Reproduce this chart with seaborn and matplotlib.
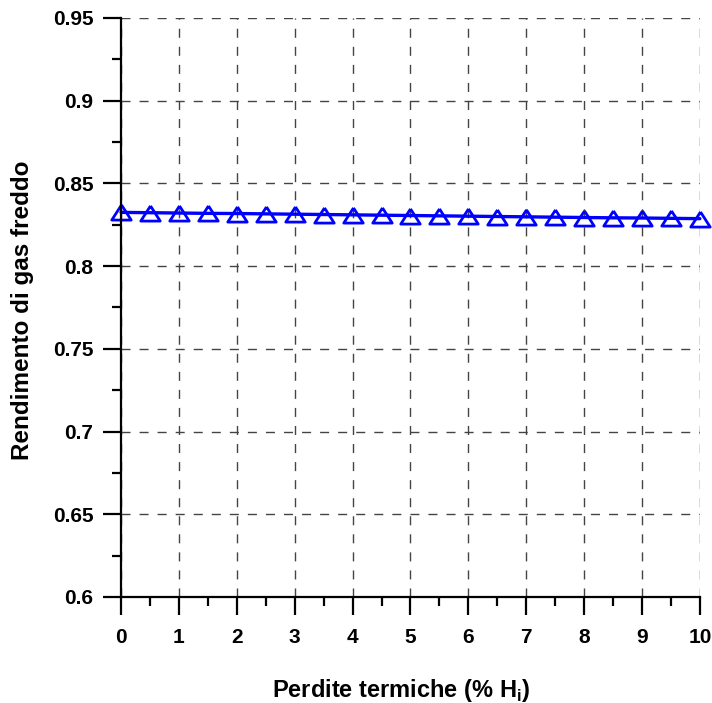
import matplotlib
matplotlib.use("Agg")
import matplotlib.pyplot as plt
import seaborn as sns
import pandas as pd
from matplotlib.ticker import MultipleLocator, FixedLocator

perdite = [0.0, 0.5, 1.0, 1.5, 2.0, 2.5, 3.0, 3.5, 4.0, 4.5, 5.0,
           5.5, 6.0, 6.5, 7.0, 7.5, 8.0, 8.5, 9.0, 9.5, 10.0]
rendimento = [0.8325, 0.8323, 0.8321, 0.8319, 0.8318, 0.8316, 0.8314,
              0.8312, 0.8310, 0.8308, 0.8306, 0.8304, 0.8302, 0.8300,
              0.8298, 0.8296, 0.8294, 0.8292, 0.8291, 0.8289, 0.8287]
x_ticks = [0, 1, 2, 3, 4, 5, 6, 7, 8, 9, 10]
y_ticks = [0.6, 0.65, 0.7, 0.75, 0.8, 0.85, 0.9, 0.95]
y_tick_labels = ["0.6", "0.65", "0.7", "0.75", "0.8", "0.85", "0.9", "0.95"]

sns.set_theme(style="white")
plt.rcParams["font.family"] = ["Liberation Sans", "DejaVu Sans"]
plt.rcParams["font.weight"] = "bold"
plt.rcParams["text.color"] = "black"
plt.rcParams["axes.labelcolor"] = "black"
plt.rcParams["xtick.color"] = "black"
plt.rcParams["ytick.color"] = "black"
plt.rcParams["mathtext.fontset"] = "custom"
plt.rcParams["mathtext.bf"] = "Liberation Sans:bold"
plt.rcParams["mathtext.rm"] = "Liberation Sans:bold"

df = pd.DataFrame({"x": perdite, "y": rendimento})

fig = plt.figure(figsize=(7.12, 7.03), dpi=100)
ax = fig.add_axes([0.170, 0.1508, 0.813, 0.8236])

tri = [(0, 0.78), (-1, -0.78), (1, -0.78), (0, 0.78)]
sns.lineplot(data=df, x="x", y="y", ax=ax, color="#0000ff", linewidth=2.4,
             marker=tri, markersize=14, markerfacecolor="none",
             markeredgecolor="#0000ff", markeredgewidth=2, clip_on=False,
             zorder=5)

ax.set_xlim(0, 10)
ax.set_ylim(0.6, 0.95)
ax.xaxis.set_major_locator(FixedLocator(x_ticks))
ax.xaxis.set_minor_locator(MultipleLocator(0.5))
ax.yaxis.set_major_locator(FixedLocator(y_ticks))
ax.yaxis.set_minor_locator(MultipleLocator(0.025))
ax.set_xticklabels([str(t) for t in x_ticks], fontsize=15, fontweight="bold",
                   color="black")
ax.set_yticklabels(y_tick_labels, fontsize=15, fontweight="bold",
                   color="black")

ax.grid(True, which="major", color="#444444", linestyle=(0, (6.5, 6.5)),
        linewidth=1.0)
ax.set_axisbelow(True)

for s in ["top", "right"]:
    ax.spines[s].set_visible(False)
for s in ["left", "bottom"]:
    ax.spines[s].set_color("black")
    ax.spines[s].set_linewidth(1.6)
    ax.spines[s].set_zorder(6)

ax.tick_params(axis="both", which="major", direction="out", length=13,
               width=1.6, color="black", left=True, bottom=True)
ax.tick_params(axis="x", which="major", pad=9)
ax.tick_params(axis="y", which="major", pad=7)
ax.tick_params(axis="both", which="minor", direction="out", length=6.5,
               width=1.6, color="black", left=True, bottom=True)

ax.set_xlabel(r"Perdite termiche (% H$_\mathbf{i}$)", fontsize=17,
              fontweight="bold", color="black", va="center")
ax.xaxis.set_label_coords(0.4836, -0.162)
ax.set_ylabel("Rendimento di gas freddo", fontsize=17.5, fontweight="bold",
              color="black", va="center")
ax.yaxis.set_label_coords(-0.171, 0.496)

fig.savefig("out.png", dpi=100)
